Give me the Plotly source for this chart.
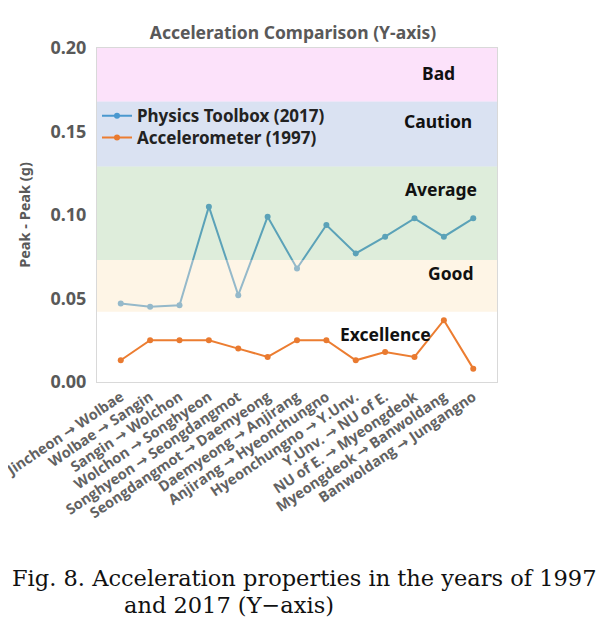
import plotly.graph_objects as go

# ---- data ----
segments = [
    "Jincheon → Wolbae", "Wolbae → Sangin", "Sangin → Wolchon",
    "Wolchon → Songhyeon", "Songhyeon → Seongdangmot", "Seongdangmot → Daemyeong",
    "Daemyeong → Anjirang", "Anjirang → Hyeonchungno", "Hyeonchungno → Y.Unv.",
    "Y.Unv. → NU of E.", "NU of E. → Myeongdeok", "Myeongdeok → Banwoldang",
    "Banwoldang → Jungangno",
]
physics_toolbox_2017 = [0.047, 0.045, 0.046, 0.105, 0.052, 0.099, 0.068,
                        0.094, 0.077, 0.087, 0.098, 0.087, 0.098]
accelerometer_1997 = [0.013, 0.025, 0.025, 0.025, 0.020, 0.015, 0.025,
                      0.025, 0.013, 0.018, 0.015, 0.037, 0.008]

band_names = ["Excellence", "Good", "Average", "Caution", "Bad"]
band_lower = [0.0, 0.042, 0.073, 0.129, 0.168]
band_upper = [0.042, 0.073, 0.129, 0.168, 0.20]
band_label_y = [0.029, 0.0655, 0.1155, 0.1565, 0.185]
band_label_x = [0.72, 0.885, 0.86, 0.853, 0.853]
band_fill = ["rgba(255,255,255,0)", "rgba(252,232,196,0.42)",
             "rgba(138,192,125,0.28)", "rgba(132,158,212,0.30)",
             "rgba(245,158,238,0.30)"]

y_ticks = [0.0, 0.05, 0.10, 0.15, 0.20]

fig = go.Figure()
fig.add_trace(go.Scatter(
    x=segments, y=physics_toolbox_2017, name="Physics Toolbox (2017)",
    mode="lines+markers", line=dict(color="#4a98cf", width=2),
    marker=dict(size=6, color="#4a98cf"), legend="legend",
))
fig.add_trace(go.Scatter(
    x=segments, y=accelerometer_1997, name="Accelerometer (1997)",
    mode="lines+markers", line=dict(color="#ec7d31", width=2),
    marker=dict(size=6, color="#e97a30"), legend="legend2",
))

for lo, hi, col in zip(band_lower, band_upper, band_fill):
    fig.add_shape(type="rect", xref="paper", yref="y", x0=0, x1=1, y0=lo, y1=hi,
                  fillcolor=col, line=dict(width=0), layer="above")

for name, lx, ly in zip(band_names, band_label_x, band_label_y):
    fig.add_annotation(text=name, xref="paper", yref="y", x=lx, y=ly,
                       showarrow=False, xanchor="center", yanchor="middle",
                       font=dict(family="Noto Sans", size=17.5, color="#111111", weight="bold"))

# caption
cap_font = dict(family="DejaVu Serif", size=22.5, color="#111111")
fig.add_annotation(text="Fig. 8. Acceleration properties in the years of 1997",
                   xref="paper", yref="paper", x=-0.2175, y=-0.587,
                   xanchor="left", yanchor="middle", showarrow=False, font=cap_font)
fig.add_annotation(text="and 2017 (Y−axis)",
                   xref="paper", yref="paper", x=0.0625, y=-0.668,
                   xanchor="left", yanchor="middle", showarrow=False, font=cap_font)

leg_font = dict(family="Noto Sans", size=17, color="#222222", weight="bold")
fig.update_layout(
    width=608, height=616,
    margin=dict(l=89, r=119, t=40, b=242),
    paper_bgcolor="white", plot_bgcolor="white",
    title=dict(text="Acceleration Comparison (Y-axis)", x=0.49, xref="paper",
               xanchor="center", y=1 - 25 / 616, yref="container", yanchor="middle",
               font=dict(family="Noto Sans", size=17.5, color="#595959", weight="bold")),
    showlegend=True,
    legend=dict(x=0.0, y=0.796, xanchor="left", yanchor="middle",
                bgcolor="rgba(0,0,0,0)", font=leg_font),
    legend2=dict(x=0.0, y=0.731, xanchor="left", yanchor="middle",
                 bgcolor="rgba(0,0,0,0)", font=leg_font),
    font=dict(family="Noto Sans"),
)
fig.update_yaxes(range=[0, 0.20], tickvals=y_ticks, tickformat=".2f",
                 showgrid=False, zeroline=False, automargin=False,
                 showline=True, mirror=True, linecolor="#d9d9d9", linewidth=1,
                 ticks="", ticklabelstandoff=6,
                 tickfont=dict(family="Noto Sans", size=18, color="#595959", weight="bold"),
                 title=dict(text="Peak - Peak (g)", standoff=16,
                            font=dict(family="Noto Sans", size=14.5, color="#595959", weight="bold")))
fig.update_xaxes(showgrid=False, zeroline=False, tickangle=-34, automargin=False,
                 showline=True, mirror=True, linecolor="#d9d9d9", linewidth=1,
                 ticks="",
                 tickfont=dict(family="Open Sans, DejaVu Sans", size=14.5, color="#626262", weight="bold"))

fig.write_html("out.html")
